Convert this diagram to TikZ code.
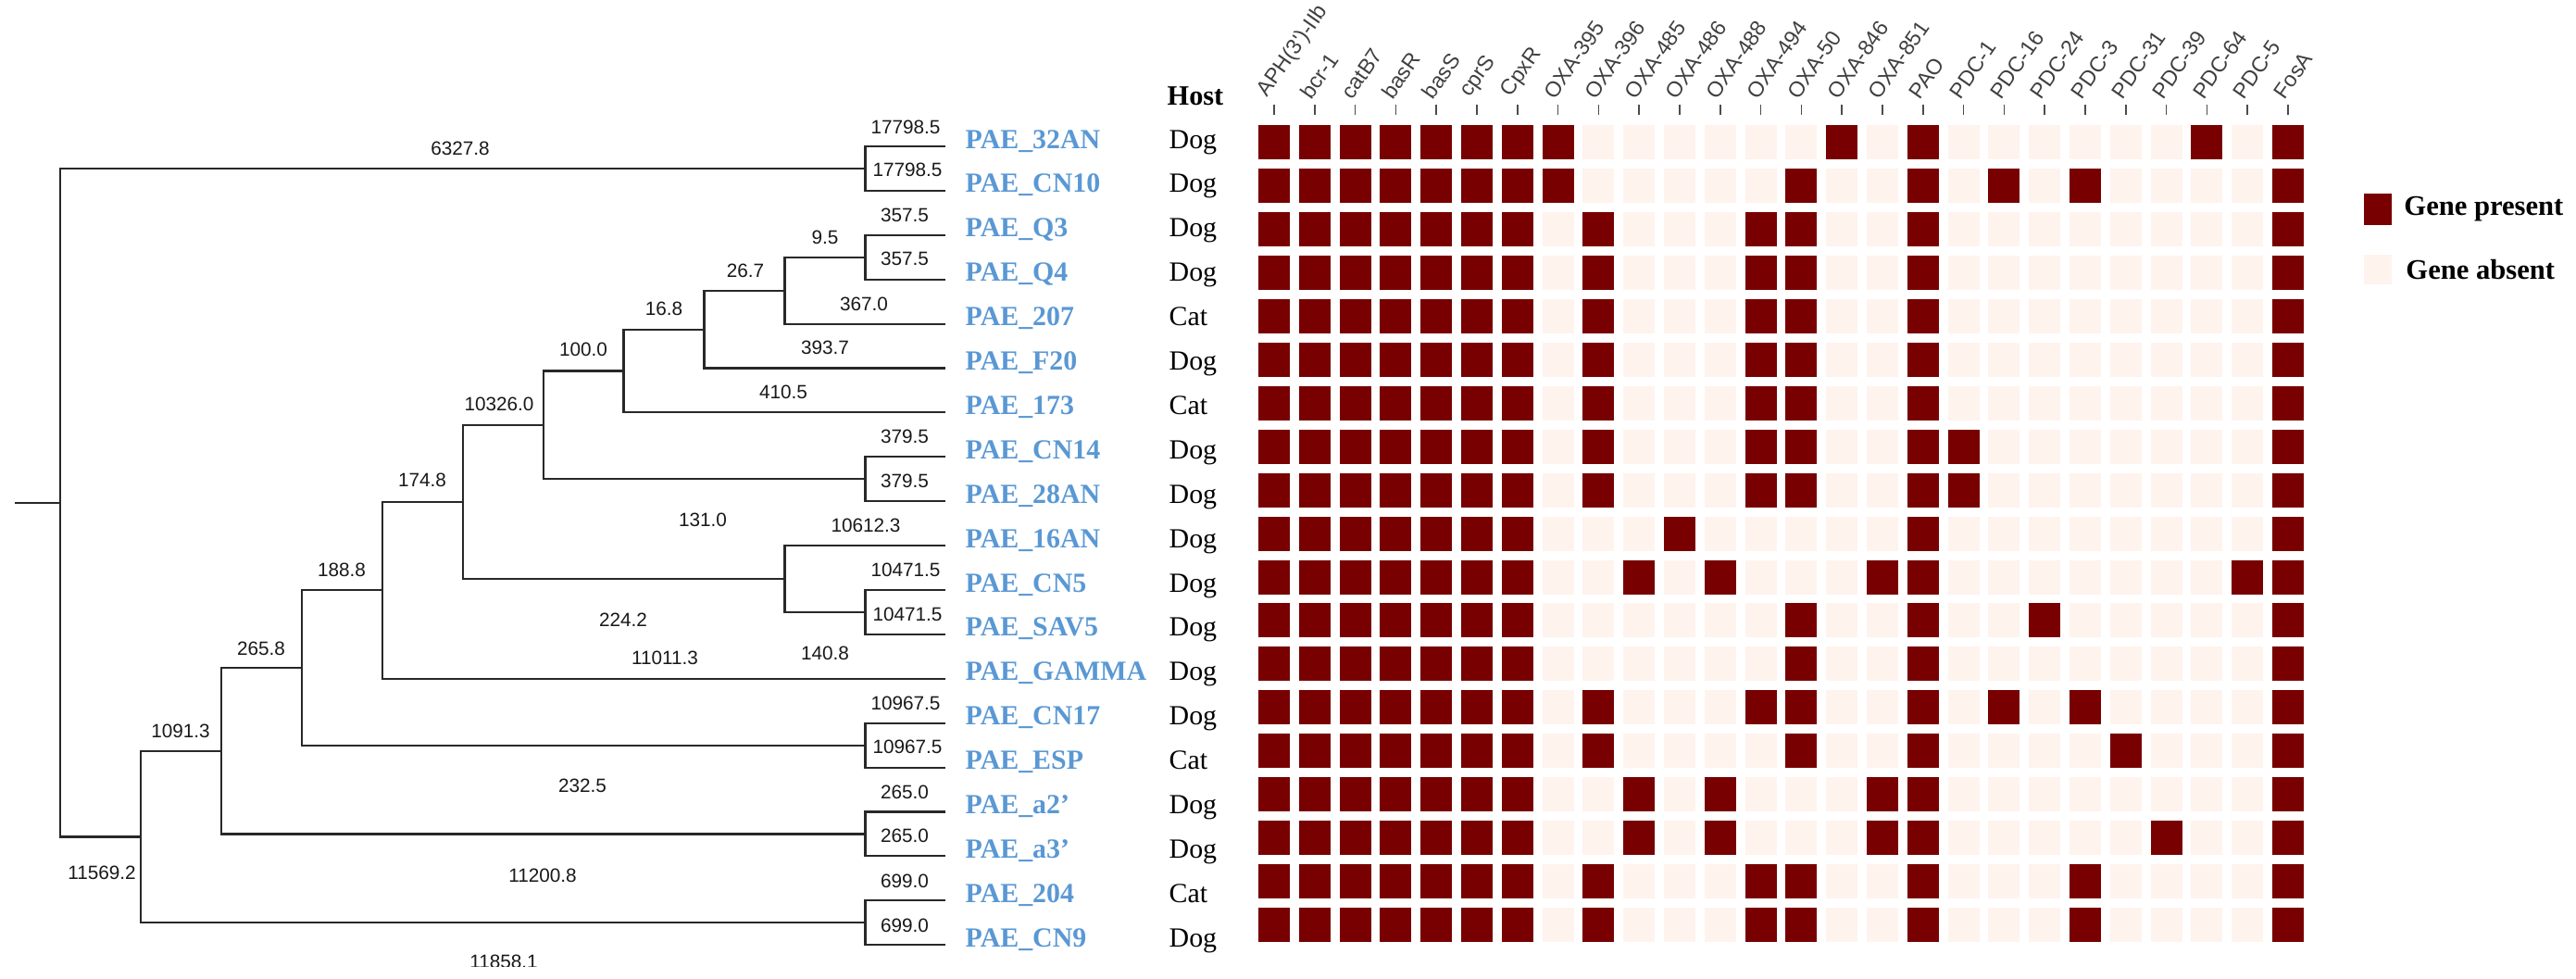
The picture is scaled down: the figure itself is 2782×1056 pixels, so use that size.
\documentclass[tikz,border=0pt]{standalone}
\usepackage{fontspec}
\setmainfont{Liberation Serif}
\newfontfamily\numfont{Liberation Sans}
\usetikzlibrary{positioning, calc}
\definecolor{genein}{RGB}{120,0,0}
\definecolor{geneout}{RGB}{255,243,238}
\definecolor{leafblue}{RGB}{90,152,212}
\definecolor{branchgray}{RGB}{40,40,40}

\begin{document}
\begin{tikzpicture}[
    x=0.01cm, y=-0.01cm,
    branch/.style={draw=branchgray, line width=0.6pt, line cap=rect},
    blen/.style={font=\numfont\fontsize{5.9}{7}\selectfont, inner sep=0pt, text=black!90},
    leaf/.style={anchor=base west, inner sep=0pt, font=\bfseries\fontsize{8.5}{10}\selectfont, text=leafblue},
    host/.style={anchor=base west, inner sep=0pt, font=\fontsize{8.5}{10}\selectfont},
    gene/.style={anchor=south west, rotate=55, inner sep=0pt, font=\numfont\fontsize{6.6}{8}\selectfont, text=black!75},
    genetick/.style={draw=black!70, line width=0.45pt},
    cellbox/.style={rectangle, minimum width=0.34cm, minimum height=0.37cm, inner sep=0pt, fill=geneout},
    cellon/.style={cellbox, fill=genein},
    keytext/.style={font=\bfseries\fontsize{8.7}{10}\selectfont, inner sep=0pt}
  ]
  \useasboundingbox (0,0) rectangle (2782,1056);

  \foreach \nm/\hs [count=\r] in {32AN/Dog, CN10/Dog, Q3/Dog, Q4/Dog, 207/Cat, F20/Dog, 173/Cat,
      CN14/Dog, 28AN/Dog, 16AN/Dog, CN5/Dog, SAV5/Dog, GAMMA/Dog, CN17/Dog, ESP/Cat,
      a2'/Dog, a3'/Dog, 204/Cat, CN9/Dog} {
    \coordinate (t\r) at (1020, {158+(\r-1)*47.9});
    \node[leaf] (leaf\r) at (1042, {160+(\r-1)*47.9}) {PAE\_\nm};
    \node[host] (host\r) at (1262, {160+(\r-1)*47.9}) {\hs};
  }
  \node[host, font=\bfseries\fontsize{8.6}{10}\selectfont] (hosthead) at (1260,113) {Host};

  \coordinate (stub) at (16.6, 542.7);
  \coordinate (root) at (64.7, 542.7);
  \coordinate (A) at (934.5, 182);
  \coordinate (L) at (151.7, 903.5);
  \coordinate (K) at (238.8, 810.7);
  \coordinate (J) at (325.9, 721);
  \coordinate (I) at (413, 637.4);
  \coordinate (G) at (500, 542);
  \coordinate (E) at (587, 458.9);
  \coordinate (D) at (673.5, 400.5);
  \coordinate (C) at (760.5, 355.6);
  \coordinate (B) at (847.5, 313.7);
  \coordinate (Q) at (934.5, 277.75);
  \coordinate (P8) at (934.5, 517.25);
  \coordinate (H) at (847.5, 625);
  \coordinate (P11) at (934.5, 660.95);
  \coordinate (P14) at (934.5, 804.65);
  \coordinate (P16) at (934.5, 900.45);
  \coordinate (P18) at (934.5, 996.25);

  \draw[branch] (stub) -- (root);
  \draw[branch] (A) -| (root) |- (L);
  \draw[branch] (t1) -| (A) |- (t2);
  \draw[branch] (K) -| (L) |- (P18);
  \draw[branch] (t18) -| (P18) |- (t19);
  \draw[branch] (J) -| (K) |- (P16);
  \draw[branch] (t16) -| (P16) |- (t17);
  \draw[branch] (I) -| (J) |- (P14);
  \draw[branch] (t14) -| (P14) |- (t15);
  \draw[branch] (G) -| (I) |- (t13);
  \draw[branch] (E) -| (G) |- (H);
  \draw[branch] (t10) -| (H) |- (P11);
  \draw[branch] (t11) -| (P11) |- (t12);
  \draw[branch] (D) -| (E) |- (P8);
  \draw[branch] (t8) -| (P8) |- (t9);
  \draw[branch] (C) -| (D) |- (t7);
  \draw[branch] (B) -| (C) |- (t6);
  \draw[branch] (Q) -| (B) |- (t5);
  \draw[branch] (t3) -| (Q) |- (t4);

  \foreach \val/\xx/\yy [count=\i] in {
      6327.8/497/160, 17798.5/978/137, 17798.5/980/183, 357.5/977/232, 357.5/977/279,
      9.5/891/256, 26.7/805/292, 367.0/933/328, 16.8/717/333, 393.7/891/375,
      100.0/630/377, 410.5/846/423, 10326.0/539/436, 379.5/977/471, 379.5/977/519,
      174.8/456/518, 131.0/759/561, 10612.3/935/567, 10471.5/978/615, 10471.5/980/663,
      188.8/369/615, 224.2/673/669, 265.8/282/700, 140.8/891/705, 11011.3/718/710,
      10967.5/978/759, 10967.5/980/806, 1091.3/195/789, 232.5/629/848, 265.0/977/855,
      265.0/977/902, 11569.2/110/942, 11200.8/586/945, 699.0/977/951, 699.0/977/999}
    \node[blen] (len\i) at (\xx,\yy) {\val};
  \begin{scope}
    \clip (0,0) rectangle (1020,1043);
    \node[blen] (len36) at (544,1038) {11858.1};
  \end{scope}

  \foreach \r in {1,...,19}
    \foreach \k in {1,...,26}
      \node[cellbox] (c-\r-\k) at ({1376+(\k-1)*43.8},{153.5+(\r-1)*46.95}) {};

  \foreach \r/\cols in {
      1/{1,2,3,4,5,6,7,8,15,17,24,26},
      2/{1,2,3,4,5,6,7,8,14,17,19,21,26},
      3/{1,2,3,4,5,6,7,9,13,14,17,26},
      4/{1,2,3,4,5,6,7,9,13,14,17,26},
      5/{1,2,3,4,5,6,7,9,13,14,17,26},
      6/{1,2,3,4,5,6,7,9,13,14,17,26},
      7/{1,2,3,4,5,6,7,9,13,14,17,26},
      8/{1,2,3,4,5,6,7,9,13,14,17,18,26},
      9/{1,2,3,4,5,6,7,9,13,14,17,18,26},
      10/{1,2,3,4,5,6,7,11,17,26},
      11/{1,2,3,4,5,6,7,10,12,16,17,25,26},
      12/{1,2,3,4,5,6,7,14,17,20,26},
      13/{1,2,3,4,5,6,7,14,17,26},
      14/{1,2,3,4,5,6,7,9,13,14,17,19,21,26},
      15/{1,2,3,4,5,6,7,9,14,17,22,26},
      16/{1,2,3,4,5,6,7,10,12,16,17,26},
      17/{1,2,3,4,5,6,7,10,12,16,17,23,26},
      18/{1,2,3,4,5,6,7,9,13,14,17,21,26},
      19/{1,2,3,4,5,6,7,9,13,14,17,21,26}}
    \foreach \k in \cols
      \node[cellon] (p-\r-\k) at (c-\r-\k) {};

  \foreach \g [count=\k] in {APH(3')-IIb, bcr-1, catB7, basR, basS, cprS, CpxR,
      OXA-395, OXA-396, OXA-485, OXA-486, OXA-488, OXA-494, OXA-50, OXA-846, OXA-851,
      PAO, PDC-1, PDC-16, PDC-24, PDC-3, PDC-31, PDC-39, PDC-64, PDC-5, FosA} {
    \draw[genetick] ([yshift=0.10cm]c-1-\k.north) -- ([yshift=0.21cm]c-1-\k.north);
    \node[gene] (g\k) at ([xshift=-0.03cm, yshift=0.25cm]c-1-\k.north) {\g};
  }

  \node[cellon, minimum width=0.30cm, minimum height=0.34cm] (keyon) at (2568,226) {};
  \node[keytext, right=0.12cm of keyon] (keyontext) {Gene present};
  \node[cellbox, minimum width=0.30cm, minimum height=0.32cm] (keyoff) at (2568,291) {};
  \node[keytext, right=0.14cm of keyoff] (keyofftext) {Gene absent};
\end{tikzpicture}
\end{document}
